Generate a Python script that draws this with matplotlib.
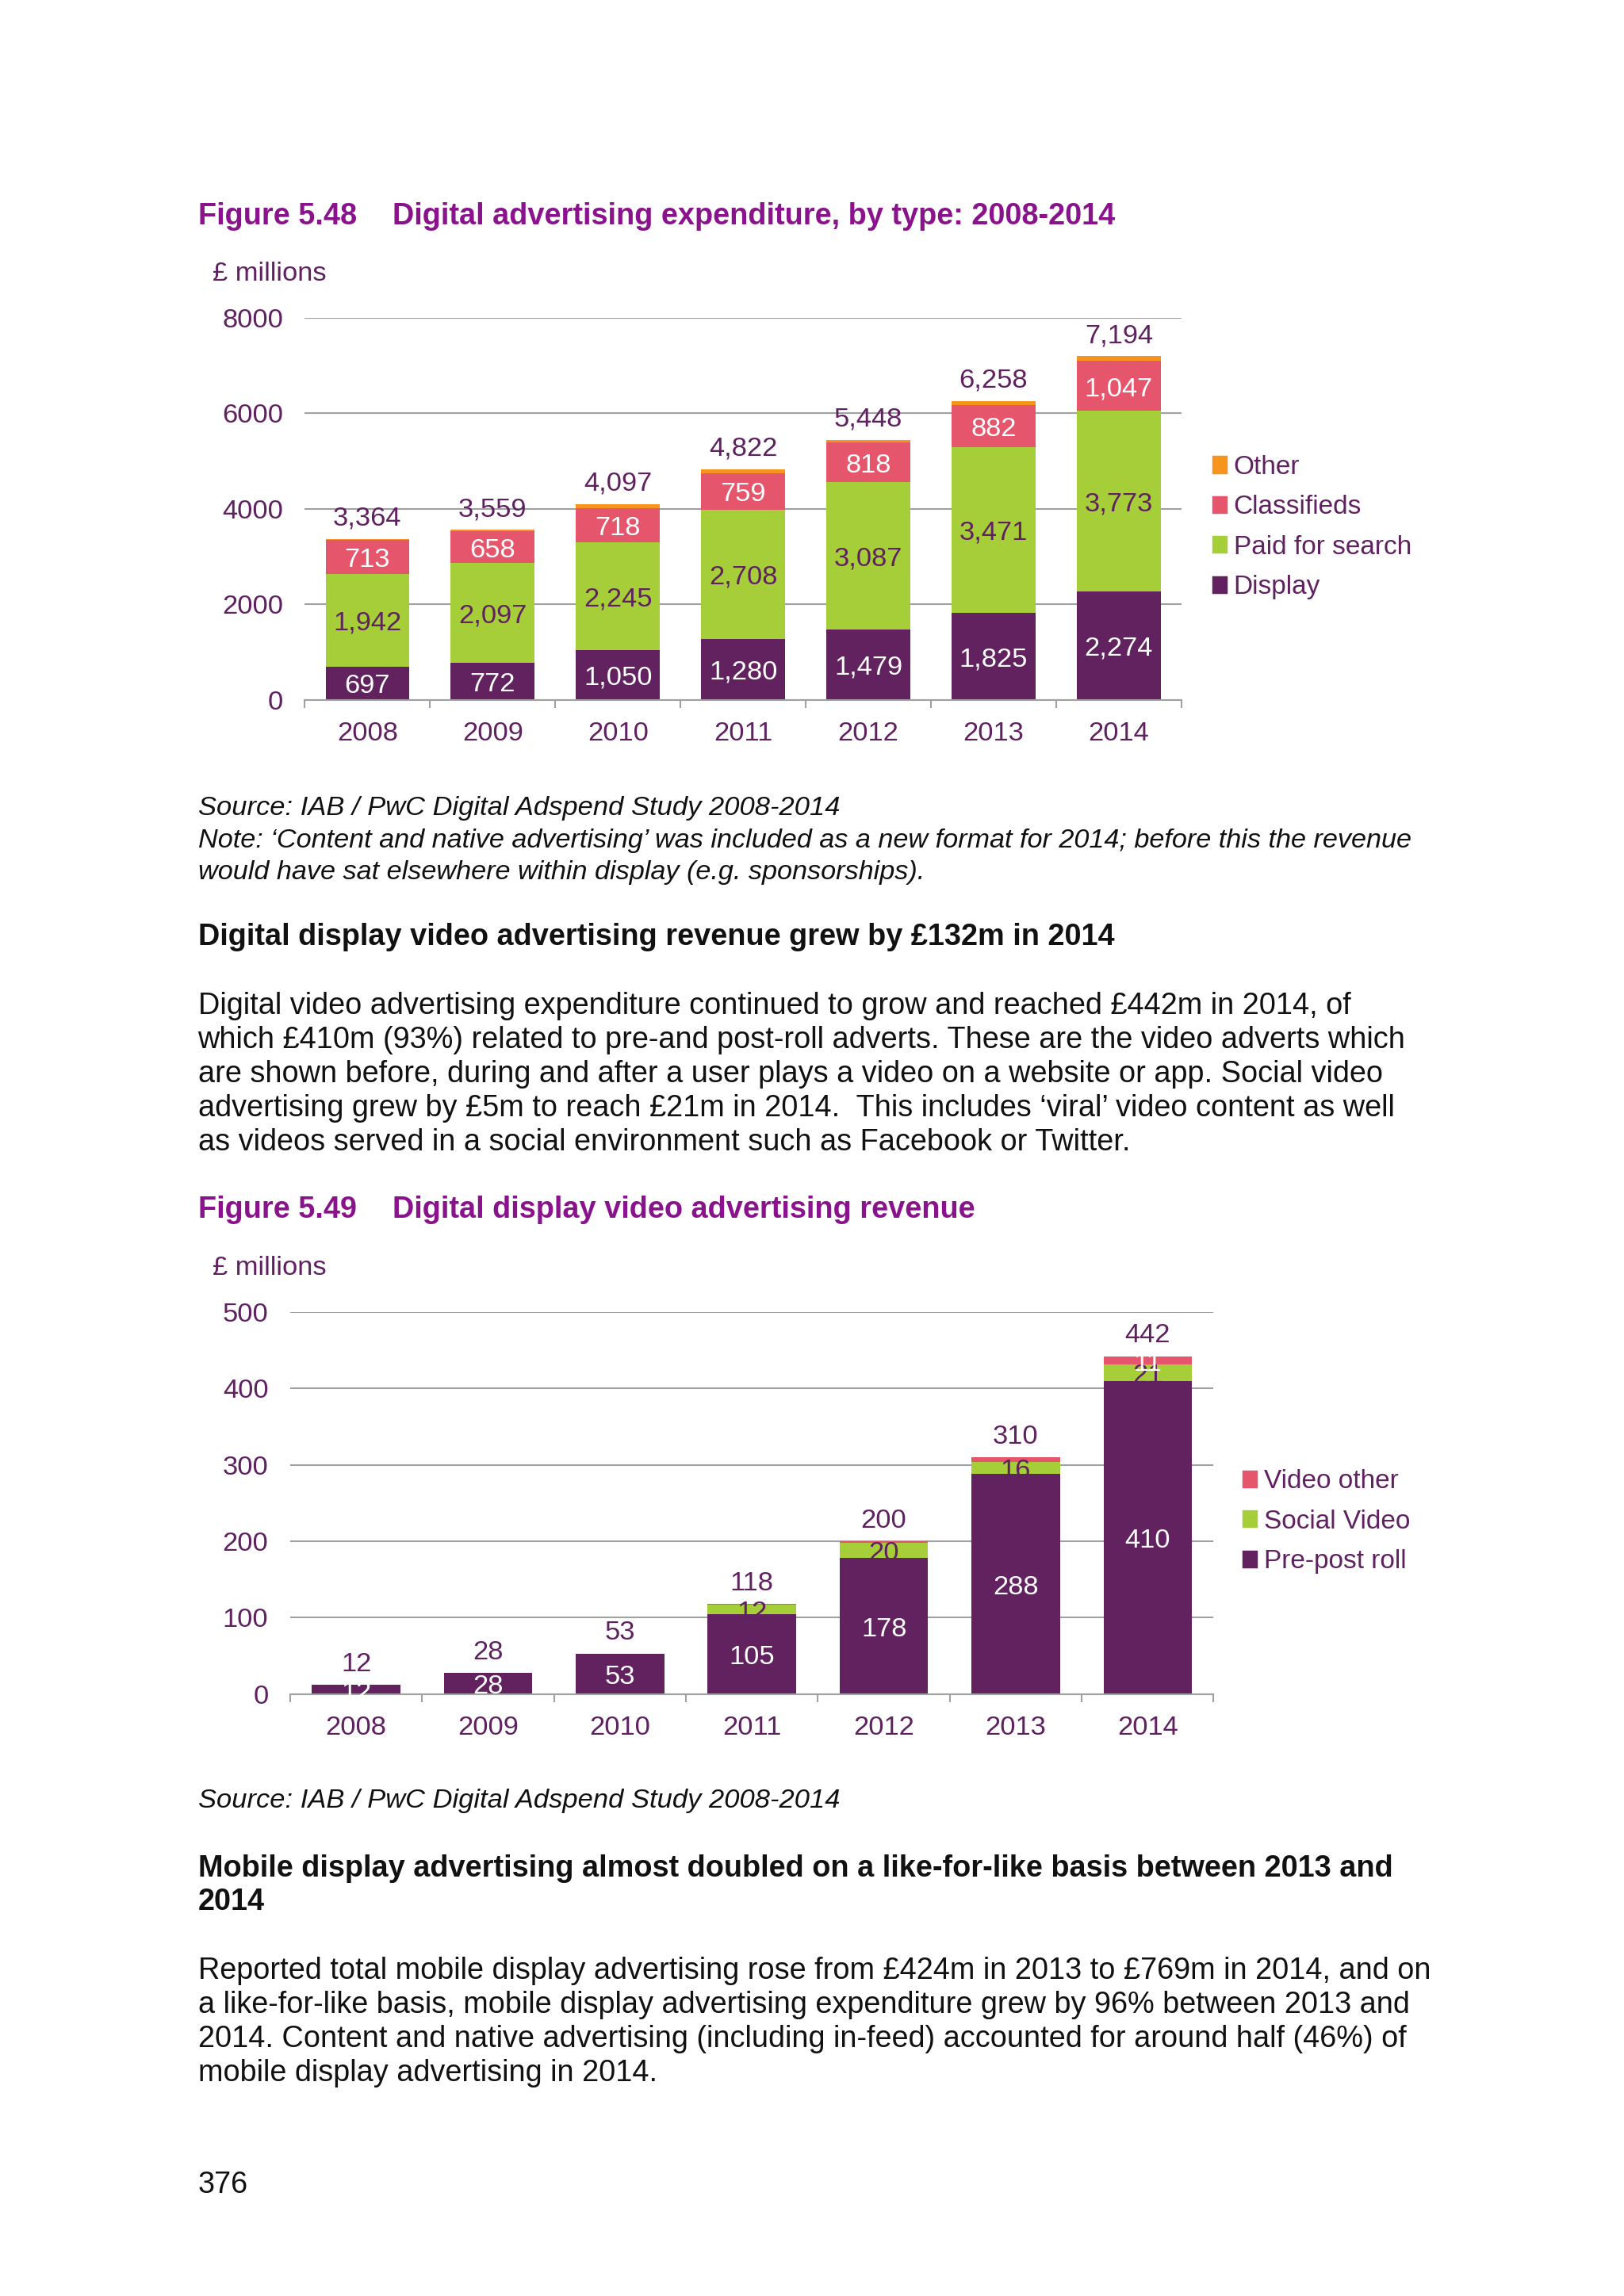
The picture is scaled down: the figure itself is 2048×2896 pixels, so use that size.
"""Recreate Ofcom report page 376: digital advertising charts (Figures 5.48 and 5.49)."""

import matplotlib

matplotlib.use("Agg")
import matplotlib.pyplot as plt
from matplotlib.patches import Patch

plt.rcParams["font.family"] = ["Liberation Sans", "DejaVu Sans"]

# ---- data -----------------------------------------------------------------
years = ["2008", "2009", "2010", "2011", "2012", "2013", "2014"]

# Figure 5.48 (GBP millions)
display = [697, 772, 1050, 1280, 1479, 1825, 2274]
paid_search = [1942, 2097, 2245, 2708, 3087, 3471, 3773]
classifieds = [713, 658, 718, 759, 818, 882, 1047]
other = [12, 32, 84, 75, 64, 80, 100]
totals_48 = [3364, 3559, 4097, 4822, 5448, 6258, 7194]

# Figure 5.49 (GBP millions)
pre_post_roll = [12, 28, 53, 105, 178, 288, 410]
social_video = [0, 0, 0, 12, 20, 16, 21]
video_other = [0, 0, 0, 1, 2, 6, 11]
totals_49 = [12, 28, 53, 118, 200, 310, 442]

# ---- style ----------------------------------------------------------------
PURPLE_DARK = "#5F2160"
TITLE_PURPLE = "#8A128C"
C_DISPLAY = "#62225F"
C_SEARCH = "#A6CE39"
C_CLASSIFIED = "#E5566C"
C_OTHER = "#F7941D"
GRID = "#A0A0A0"
BODY = "#111111"

DPI = 248
fig = plt.figure(figsize=(2048 / DPI, 2896 / DPI), dpi=DPI)
fig.patch.set_facecolor("white")

W, H = 1108.0, 1568.0  # layout measured on a 1108 px wide page


def fx(x):
    return x / W


def fy(y):
    return 1 - y / H


def page_text(x, y, s, size=11, weight="normal", style="normal", color=BODY):
    # +2 compensates for matplotlib centring on the full glyph box
    fig.text(fx(x), fy(y + 2), s, fontsize=size, fontweight=weight, fontstyle=style,
             color=color, ha="left", va="center")


def style_axes(ax, ymax, ystep):
    ax.set_xlim(-0.5, len(years) - 0.5)
    ax.set_ylim(0, ymax)
    ax.set_yticks(range(0, ymax + 1, ystep))
    ax.set_xticks(range(len(years)))
    ax.set_xticklabels(years)
    ax.set_xticks([i - 0.5 for i in range(len(years) + 1)], minor=True)
    ax.tick_params(axis="x", which="major", length=0, pad=8, labelsize=10,
                   labelcolor=PURPLE_DARK)
    ax.tick_params(axis="x", which="minor", length=3, width=0.6, color=GRID)
    ax.tick_params(axis="y", length=0, pad=8, labelsize=10, labelcolor=PURPLE_DARK)
    ax.grid(axis="y", color=GRID, linewidth=0.6)
    ax.set_axisbelow(True)
    for side in ("top", "right", "left"):
        ax.spines[side].set_visible(False)
    ax.spines["bottom"].set_color(GRID)
    ax.spines["bottom"].set_linewidth(0.6)
    ax.set_facecolor("none")


def seg_labels(ax, values, bottoms, color, min_value=10, fmt="{:,}"):
    for i, (v, b) in enumerate(zip(values, bottoms)):
        if v >= min_value:
            ax.annotate(fmt.format(v), (i, b + v / 2), xytext=(0, -1.2),
                        textcoords="offset points", ha="center", va="center",
                        fontsize=10, color=color)


def total_labels(ax, totals):
    for i, t in enumerate(totals):
        ax.annotate(f"{t:,}", (i, t), xytext=(0, 7.5), textcoords="offset points",
                    ha="center", va="center", fontsize=10, color=PURPLE_DARK)


def side_legend(ax, handles, labels, anchor):
    ax.legend(handles, labels, loc="center left", bbox_to_anchor=anchor, frameon=False,
              fontsize=9.7, labelcolor=PURPLE_DARK, handlelength=0.5, handleheight=0.5,
              handletextpad=0.28, labelspacing=0.58, borderpad=0, borderaxespad=0)


x = list(range(len(years)))
BAR_W = 0.67

# ---- Figure 5.48 ----------------------------------------------------------
page_text(135, 146, "Figure 5.48", weight="bold", color=TITLE_PURPLE)
page_text(268, 146, "Digital advertising expenditure, by type: 2008-2014",
          weight="bold", color=TITLE_PURPLE)
page_text(145, 185, "£ millions", size=10, color=PURPLE_DARK)

ax1 = fig.add_axes([fx(208), fy(478), fx(806) - fx(208), fy(217) - fy(478)])
style_axes(ax1, 8000, 2000)

b_search = display
b_class = [d + s for d, s in zip(display, paid_search)]
b_other = [c + k for c, k in zip(b_class, classifieds)]
ax1.bar(x, display, BAR_W, color=C_DISPLAY)
ax1.bar(x, paid_search, BAR_W, bottom=b_search, color=C_SEARCH)
ax1.bar(x, classifieds, BAR_W, bottom=b_class, color=C_CLASSIFIED)
ax1.bar(x, other, BAR_W, bottom=b_other, color=C_OTHER)

seg_labels(ax1, display, [0] * 7, "white")
seg_labels(ax1, paid_search, b_search, PURPLE_DARK)
seg_labels(ax1, classifieds, b_class, "white")
total_labels(ax1, totals_48)

side_legend(ax1,
            [Patch(color=C_OTHER), Patch(color=C_CLASSIFIED), Patch(color=C_SEARCH),
             Patch(color=C_DISPLAY)],
            ["Other", "Classifieds", "Paid for search", "Display"],
            (1.036, 0.452))

page_text(135, 550, "Source: IAB / PwC Digital Adspend Study 2008-2014", size=10,
          style="italic")
page_text(135, 572, "Note: \u2018Content and native advertising\u2019 was included as a new "
          "format for 2014; before this the revenue", size=9.95, style="italic")
page_text(135, 594, "would have sat elsewhere within display (e.g. sponsorships).",
          size=9.95, style="italic")

page_text(135, 638, "Digital display video advertising revenue grew by £132m in 2014",
          weight="bold")

para1 = [
    "Digital video advertising expenditure continued to grow and reached £442m in 2014, of",
    "which £410m (93%) related to pre-and post-roll adverts. These are the video adverts which",
    "are shown before, during and after a user plays a video on a website or app. Social video",
    "advertising grew by £5m to reach £21m in 2014.  This includes \u2018viral\u2019 video content as well",
    "as videos served in a social environment such as Facebook or Twitter.",
]
for k, line in enumerate(para1):
    page_text(135, 685 + k * 23.3, line)

# ---- Figure 5.49 ----------------------------------------------------------
page_text(135, 824, "Figure 5.49", weight="bold", color=TITLE_PURPLE)
page_text(268, 824, "Digital display video advertising revenue", weight="bold",
          color=TITLE_PURPLE)
page_text(145, 864, "£ millions", size=10, color=PURPLE_DARK)

ax2 = fig.add_axes([fx(198), fy(1157), fx(828) - fx(198), fy(896) - fy(1157)])
style_axes(ax2, 500, 100)

b_social = pre_post_roll
b_vother = [p + s for p, s in zip(pre_post_roll, social_video)]
ax2.bar(x, pre_post_roll, BAR_W, color=C_DISPLAY)
ax2.bar(x, social_video, BAR_W, bottom=b_social, color=C_SEARCH)
ax2.bar(x, video_other, BAR_W, bottom=b_vother, color=C_CLASSIFIED)

seg_labels(ax2, pre_post_roll, [0] * 7, "white")
seg_labels(ax2, social_video, b_social, PURPLE_DARK)
seg_labels(ax2, video_other, b_vother, "white")
total_labels(ax2, totals_49)

side_legend(ax2,
            [Patch(color=C_CLASSIFIED), Patch(color=C_SEARCH), Patch(color=C_DISPLAY)],
            ["Video other", "Social Video", "Pre-post roll"],
            (1.032, 0.452))

page_text(135, 1228, "Source: IAB / PwC Digital Adspend Study 2008-2014", size=10,
          style="italic")

page_text(135, 1274, "Mobile display advertising almost doubled on a like-for-like basis "
          "between 2013 and", weight="bold")
page_text(135, 1297, "2014", weight="bold")

para2 = [
    "Reported total mobile display advertising rose from £424m in 2013 to £769m in 2014, and on",
    "a like-for-like basis, mobile display advertising expenditure grew by 96% between 2013 and",
    "2014. Content and native advertising (including in-feed) accounted for around half (46%) of",
    "mobile display advertising in 2014.",
]
for k, line in enumerate(para2):
    page_text(135, 1344 + k * 23.3, line)

page_text(135, 1490, "376")

fig.savefig("out.png", dpi=DPI, facecolor="white")
